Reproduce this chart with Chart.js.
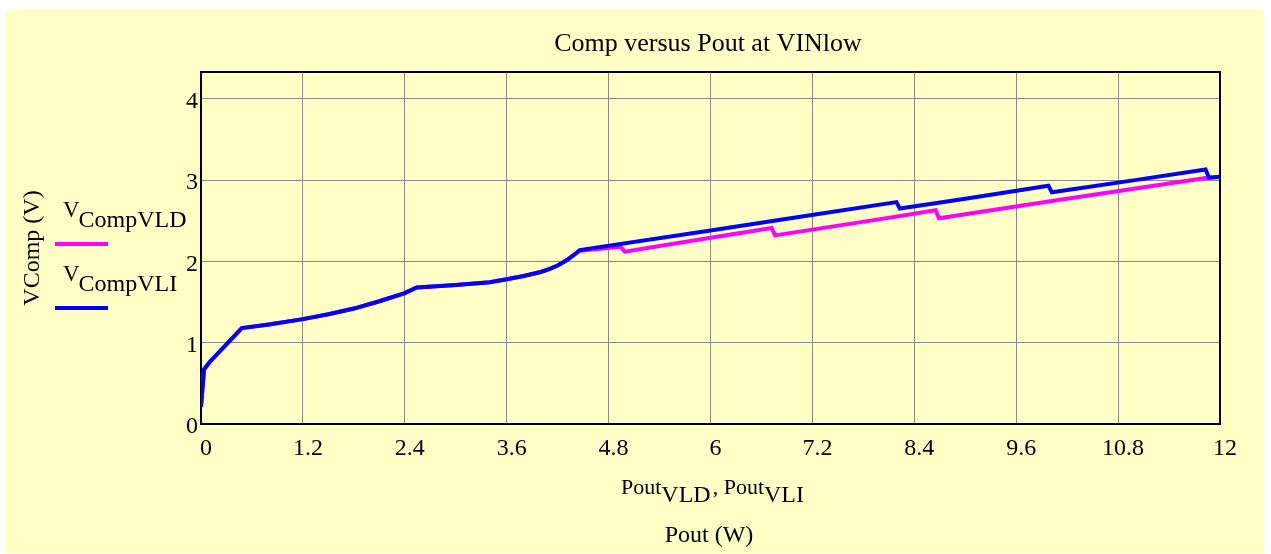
<!DOCTYPE html>
<html>
<head>
<meta charset="utf-8">
<script src="https://cdn.jsdelivr.net/npm/chart.js@4/dist/chart.umd.min.js"></script>
<style>
html,body{margin:0;padding:0;background:#fff;}
canvas{display:block;}
</style>
</head>
<body>
<canvas id="c" width="1271" height="554"></canvas>
<script>
// ---- data ----
const titleText = "Comp versus Pout at VINlow";
const yTitle = "VComp (V)";
const xTitle = "Pout (W)";
const xTickValues = [0, 1.2, 2.4, 3.6, 4.8, 6, 7.2, 8.4, 9.6, 10.8, 12];
const yTickValues = [0, 1, 2, 3, 4];

const poutVLD = [0, 0.035, 0.1, 0.48, 0.8, 1.2, 1.5, 1.8, 2.1, 2.4, 2.54, 3.0, 3.4, 3.6, 3.8, 4.0, 4.1, 4.2, 4.3, 4.38, 4.46, 4.94, 4.99, 6.0, 6.72, 6.76, 8.0, 8.65, 8.69, 10.0, 11.85, 12];
const compVLD = [0.21, 0.67, 0.76, 1.18, 1.225, 1.29, 1.35, 1.42, 1.51, 1.61, 1.68, 1.71, 1.745, 1.78, 1.82, 1.87, 1.905, 1.95, 2.01, 2.07, 2.13, 2.18, 2.12, 2.29, 2.41, 2.32, 2.52, 2.63, 2.53, 2.74, 3.03, 3.04];

const poutVLI = [0, 0.035, 0.1, 0.48, 0.8, 1.2, 1.5, 1.8, 2.1, 2.4, 2.54, 3.0, 3.4, 3.6, 3.8, 4.0, 4.1, 4.2, 4.3, 4.38, 4.46, 6.0, 7.0, 8.19, 8.23, 9.0, 9.98, 10.02, 11.0, 11.83, 11.87, 12];
const compVLI = [0.21, 0.67, 0.76, 1.18, 1.225, 1.29, 1.35, 1.42, 1.51, 1.61, 1.68, 1.71, 1.745, 1.78, 1.82, 1.87, 1.905, 1.95, 2.01, 2.07, 2.14, 2.38, 2.54, 2.73, 2.65, 2.77, 2.93, 2.85, 3.00, 3.13, 3.03, 3.04];

const labelVLD = ["V", "CompVLD"];
const labelVLI = ["V", "CompVLI"];
const xTitleParts = [["Pout", "VLD"], ["Pout", "VLI"]];

// ---- chart ----
const SERIF = "'Liberation Serif', 'Times New Roman', serif";
const PANEL = "#FFFFC6";

function pts(xs, ys){ return xs.map((x,i)=>({x:x, y:ys[i]})); }

const decorPlugin = {
  id: 'decor',
  beforeDraw(chart){
    const ctx = chart.ctx;
    ctx.save();
    ctx.fillStyle = '#ffffff';
    ctx.fillRect(0,0,chart.width,chart.height);
    ctx.fillStyle = PANEL;
    ctx.fillRect(5,10,1259,543);
    ctx.restore();
  },
  beforeDatasetsDraw(chart){
    const a = chart.chartArea, ctx = chart.ctx;
    ctx.save();
    ctx.strokeStyle = '#000';
    ctx.lineWidth = 2;
    ctx.strokeRect(a.left, a.top, a.right-a.left, a.bottom-a.top);
    ctx.restore();
  },
  afterDraw(chart){
    const ctx = chart.ctx;
    ctx.save();
    ctx.fillStyle = '#000';
    ctx.textBaseline = 'alphabetic';
    // title
    ctx.font = "26px " + SERIF;
    ctx.textAlign = 'center';
    ctx.fillText(titleText, 708, 51);
    // x title
    ctx.font = "24px " + SERIF;
    ctx.fillText(xTitle, 709, 542);
    // y title
    ctx.save();
    ctx.translate(39, 248);
    ctx.rotate(-Math.PI/2);
    ctx.font = "24px " + SERIF;
    ctx.fillText(yTitle, 0, 0);
    ctx.restore();
    // x composite label
    ctx.textAlign = 'left';
    const mainF = "22px " + SERIF, subF = "24px " + SERIF;
    let x = 621;
    xTitleParts.forEach((p, i) => {
      ctx.font = mainF; ctx.fillText(p[0], x, 494); x += ctx.measureText(p[0]).width;
      ctx.font = subF; ctx.fillText(p[1], x, 502); x += ctx.measureText(p[1]).width;
      if (i === 0) { ctx.font = mainF; ctx.fillText(",", x+2, 494); x += ctx.measureText(", ").width + 2; }
    });
    // legend
    const legend = [[labelVLD, 217, 227, 244, '#FF00FF'], [labelVLI, 281, 291, 308, '#0000FF']];
    legend.forEach(l => {
      ctx.font = "23px " + SERIF;
      ctx.fillText(l[0][0], 63, l[1]);
      const w = ctx.measureText(l[0][0]).width;
      ctx.font = "24px " + SERIF;
      ctx.fillText(l[0][1], 63 + w - 1, l[2]);
      ctx.strokeStyle = l[4];
      ctx.lineWidth = 4;
      ctx.beginPath(); ctx.moveTo(55, l[3]); ctx.lineTo(108, l[3]); ctx.stroke();
    });
    ctx.restore();
  }
};

new Chart(document.getElementById('c'), {
  type: 'line',
  data: {
    datasets: [
      { label: 'VCompVLD', data: pts(poutVLD, compVLD), borderColor: '#FF00FF', borderWidth: 4, pointRadius: 0, tension: 0, fill: false, order: 1 },
      { label: 'VCompVLI', data: pts(poutVLI, compVLI), borderColor: '#0000FF', borderWidth: 4, pointRadius: 0, tension: 0, fill: false, order: 0 }
    ]
  },
  options: {
    responsive: false,
    animation: false,
    devicePixelRatio: 1,
    layout: { padding: { left: 0, right: 51, top: 72, bottom: 0 } },
    plugins: { legend: { display: false }, tooltip: { enabled: false }, title: { display: false } },
    scales: {
      x: {
        type: 'linear', min: 0, max: 12,
        afterBuildTicks: s => { s.ticks = xTickValues.map(v => ({ value: v })); },
        afterFit: s => { s.height = 130; },
        grid: { color: '#888888', lineWidth: 1, drawTicks: false },
        border: { display: false },
        ticks: { color: '#000', font: { family: SERIF, size: 24 }, padding: 10, labelOffset: 5, maxRotation: 0, autoSkip: false, callback: v => String(v) }
      },
      y: {
        type: 'linear', min: 0, max: 4.33,
        afterBuildTicks: s => { s.ticks = yTickValues.map(v => ({ value: v })); },
        afterFit: s => { s.width = 201; },
        grid: { color: '#888888', lineWidth: 1, drawTicks: false },
        border: { display: false },
        ticks: { color: '#000', font: { family: SERIF, size: 24 }, padding: 3, labelOffset: 3, autoSkip: false, callback: v => String(v) }
      }
    }
  },
  plugins: [decorPlugin]
});
</script>
</body>
</html>
